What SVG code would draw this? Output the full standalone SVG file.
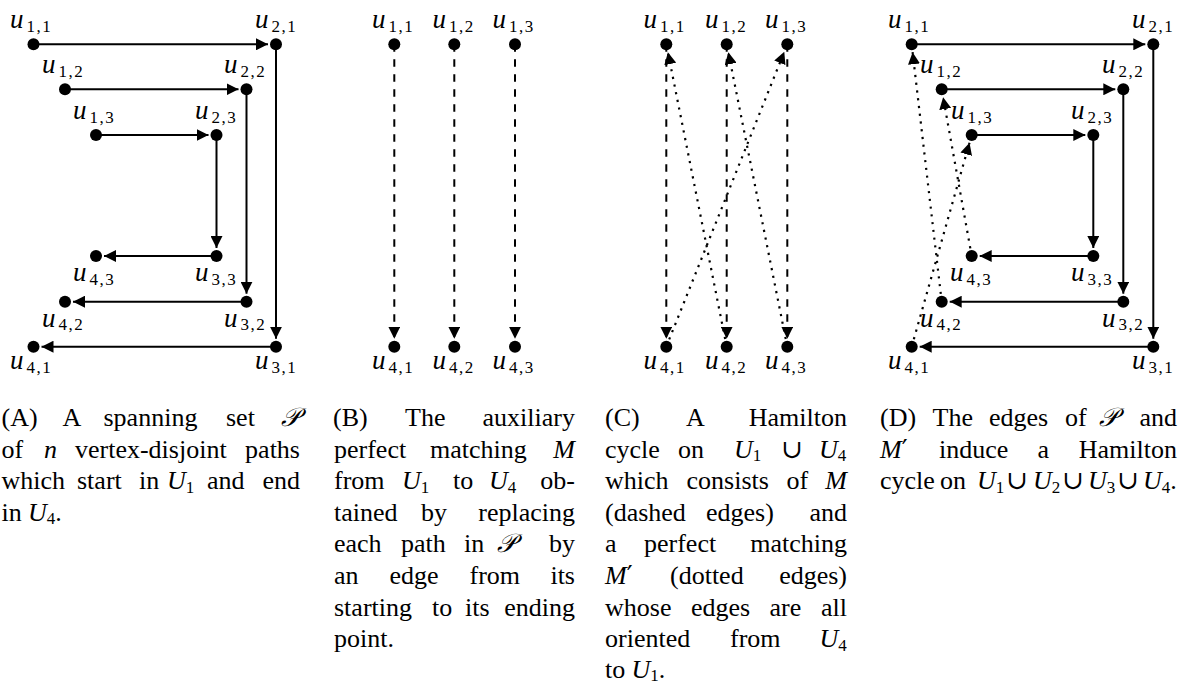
<svg xmlns="http://www.w3.org/2000/svg" width="1178" height="683" viewBox="0 0 1178 683">
<defs>
<style>
.e{fill:none;stroke:#000;stroke-width:2;marker-end:url(#ah)}
.d{stroke-dasharray:7.5 7.5}
.o{stroke-dasharray:2.2 5.6;stroke-width:2.2}
.n{fill:#000}
.lab{font-family:"Liberation Serif","DejaVu Serif",serif;font-size:27px;font-style:italic;fill:#000}
.lab .s{font-style:normal;font-size:17px;letter-spacing:1.5px}
.cap{font-family:"Liberation Serif","DejaVu Serif",serif;font-size:26px;fill:#000}
.i{font-style:italic}
.s{font-size:17px}
.scr{font-family:"DejaVu Serif","DejaVu Sans","Noto Sans",serif;font-style:italic}
.sym{font-family:"DejaVu Serif",serif}
</style>
<marker id="ah" markerUnits="userSpaceOnUse" viewBox="0 0 12 12" markerWidth="12" markerHeight="12" refX="12" refY="6" orient="auto">
<path d="M0,0 L12,6 L0,12 Z" fill="#000"/>
</marker>
</defs>
<rect width="1178" height="683" fill="#fff"/>

<g id="connectors">
<!-- Panel A -->
<path class="e" d="M33.5,44.3 H268"/>
<path class="e" d="M276,44.3 V338.7"/>
<path class="e" d="M276,346.7 H41.5"/>
<path class="e" d="M65,89.3 H238.5"/>
<path class="e" d="M246.5,89.3 V293.7"/>
<path class="e" d="M246.5,301.7 H73"/>
<path class="e" d="M96,135 H208.5"/>
<path class="e" d="M216.5,135 V248"/>
<path class="e" d="M216.5,256 H104"/>
<!-- Panel B -->
<path class="e d" d="M394.3,44.3 V338.7"/>
<path class="e d" d="M454.3,44.3 V338.7"/>
<path class="e d" d="M515,44.3 V338.7"/>
<!-- Panel C -->
<path class="e d" d="M666.3,44.3 V338.7"/>
<path class="e d" d="M726.7,44.3 V338.7"/>
<path class="e d" d="M787.3,44.3 V338.7"/>
<path class="e o" d="M726.7,346.7 L667.9,52.2"/>
<path class="e o" d="M787.3,346.7 L728.3,52.2"/>
<path class="e o" d="M666.3,346.7 L784.3,51.7"/>
<!-- Panel D -->
<path class="e" d="M911.7,44.3 H1145.3"/>
<path class="e" d="M1153.3,44.3 V338.7"/>
<path class="e" d="M1153.3,346.7 H919.7"/>
<path class="e" d="M941.7,89.3 H1115.3"/>
<path class="e" d="M1123.3,89.3 V293.7"/>
<path class="e" d="M1123.3,301.7 H949.7"/>
<path class="e" d="M971.7,135 H1085.3"/>
<path class="e" d="M1093.3,135 V248"/>
<path class="e" d="M1093.3,256 H979.7"/>
<path class="e o" d="M941.7,301.7 L912.6,52.2"/>
<path class="e o" d="M971.7,256 L943.1,97.2"/>
<path class="e o" d="M911.7,346.7 L969.5,142.7"/>
</g>

<!-- Panel A nodes -->
<g id="A-u11"><circle class="n" cx="33.5" cy="44.3" r="6"/><text class="lab" x="10" y="28.3">u<tspan class="s" dx="3" dy="3.5">1,1</tspan></text></g>
<g id="A-u21"><circle class="n" cx="276" cy="44.3" r="6"/><text class="lab" x="255" y="28.3">u<tspan class="s" dx="3" dy="3.5">2,1</tspan></text></g>
<g id="A-u12"><circle class="n" cx="65" cy="89.3" r="6"/><text class="lab" x="42" y="73.3">u<tspan class="s" dx="3" dy="3.5">1,2</tspan></text></g>
<g id="A-u22"><circle class="n" cx="246.5" cy="89.3" r="6"/><text class="lab" x="224" y="73.3">u<tspan class="s" dx="3" dy="3.5">2,2</tspan></text></g>
<g id="A-u13"><circle class="n" cx="96" cy="135" r="6"/><text class="lab" x="73" y="119">u<tspan class="s" dx="3" dy="3.5">1,3</tspan></text></g>
<g id="A-u23"><circle class="n" cx="216.5" cy="135" r="6"/><text class="lab" x="195" y="119">u<tspan class="s" dx="3" dy="3.5">2,3</tspan></text></g>
<g id="A-u43"><circle class="n" cx="96" cy="256" r="6"/><text class="lab" x="73" y="281">u<tspan class="s" dx="3" dy="3.5">4,3</tspan></text></g>
<g id="A-u33"><circle class="n" cx="216.5" cy="256" r="6"/><text class="lab" x="195" y="281">u<tspan class="s" dx="3" dy="3.5">3,3</tspan></text></g>
<g id="A-u42"><circle class="n" cx="65" cy="301.7" r="6"/><text class="lab" x="42" y="326.5">u<tspan class="s" dx="3" dy="3.5">4,2</tspan></text></g>
<g id="A-u32"><circle class="n" cx="246.5" cy="301.7" r="6"/><text class="lab" x="224" y="326.5">u<tspan class="s" dx="3" dy="3.5">3,2</tspan></text></g>
<g id="A-u41"><circle class="n" cx="33.5" cy="346.7" r="6"/><text class="lab" x="10" y="369">u<tspan class="s" dx="3" dy="3.5">4,1</tspan></text></g>
<g id="A-u31"><circle class="n" cx="276" cy="346.7" r="6"/><text class="lab" x="255" y="369">u<tspan class="s" dx="3" dy="3.5">3,1</tspan></text></g>

<!-- Panel B nodes -->
<g id="B-u11"><circle class="n" cx="394.3" cy="44.3" r="6"/><text class="lab" x="372" y="28.3">u<tspan class="s" dx="3" dy="3.5">1,1</tspan></text></g>
<g id="B-u12"><circle class="n" cx="454.3" cy="44.3" r="6"/><text class="lab" x="432.5" y="28.3">u<tspan class="s" dx="3" dy="3.5">1,2</tspan></text></g>
<g id="B-u13"><circle class="n" cx="515" cy="44.3" r="6"/><text class="lab" x="492.5" y="28.3">u<tspan class="s" dx="3" dy="3.5">1,3</tspan></text></g>
<g id="B-u41"><circle class="n" cx="394.3" cy="346.7" r="6"/><text class="lab" x="372" y="369">u<tspan class="s" dx="3" dy="3.5">4,1</tspan></text></g>
<g id="B-u42"><circle class="n" cx="454.3" cy="346.7" r="6"/><text class="lab" x="432.5" y="369">u<tspan class="s" dx="3" dy="3.5">4,2</tspan></text></g>
<g id="B-u43"><circle class="n" cx="515" cy="346.7" r="6"/><text class="lab" x="492.5" y="369">u<tspan class="s" dx="3" dy="3.5">4,3</tspan></text></g>

<!-- Panel C nodes -->
<g id="C-u11"><circle class="n" cx="666.3" cy="44.3" r="6"/><text class="lab" x="643.5" y="28.3">u<tspan class="s" dx="3" dy="3.5">1,1</tspan></text></g>
<g id="C-u12"><circle class="n" cx="726.7" cy="44.3" r="6"/><text class="lab" x="705" y="28.3">u<tspan class="s" dx="3" dy="3.5">1,2</tspan></text></g>
<g id="C-u13"><circle class="n" cx="787.3" cy="44.3" r="6"/><text class="lab" x="765" y="28.3">u<tspan class="s" dx="3" dy="3.5">1,3</tspan></text></g>
<g id="C-u41"><circle class="n" cx="666.3" cy="346.7" r="6"/><text class="lab" x="643.5" y="369">u<tspan class="s" dx="3" dy="3.5">4,1</tspan></text></g>
<g id="C-u42"><circle class="n" cx="726.7" cy="346.7" r="6"/><text class="lab" x="705" y="369">u<tspan class="s" dx="3" dy="3.5">4,2</tspan></text></g>
<g id="C-u43"><circle class="n" cx="787.3" cy="346.7" r="6"/><text class="lab" x="765" y="369">u<tspan class="s" dx="3" dy="3.5">4,3</tspan></text></g>

<!-- Panel D nodes -->
<g id="D-u11"><circle class="n" cx="911.7" cy="44.3" r="6"/><text class="lab" x="888" y="28.3">u<tspan class="s" dx="3" dy="3.5">1,1</tspan></text></g>
<g id="D-u21"><circle class="n" cx="1153.3" cy="44.3" r="6"/><text class="lab" x="1132" y="28.3">u<tspan class="s" dx="3" dy="3.5">2,1</tspan></text></g>
<g id="D-u12"><circle class="n" cx="941.7" cy="89.3" r="6"/><text class="lab" x="920" y="73.3">u<tspan class="s" dx="3" dy="3.5">1,2</tspan></text></g>
<g id="D-u22"><circle class="n" cx="1123.3" cy="89.3" r="6"/><text class="lab" x="1102" y="73.3">u<tspan class="s" dx="3" dy="3.5">2,2</tspan></text></g>
<g id="D-u13"><circle class="n" cx="971.7" cy="135" r="6"/><text class="lab" x="951" y="119">u<tspan class="s" dx="3" dy="3.5">1,3</tspan></text></g>
<g id="D-u23"><circle class="n" cx="1093.3" cy="135" r="6"/><text class="lab" x="1071" y="119">u<tspan class="s" dx="3" dy="3.5">2,3</tspan></text></g>
<g id="D-u43"><circle class="n" cx="971.7" cy="256" r="6"/><text class="lab" x="950" y="281">u<tspan class="s" dx="3" dy="3.5">4,3</tspan></text></g>
<g id="D-u33"><circle class="n" cx="1093.3" cy="256" r="6"/><text class="lab" x="1071" y="281">u<tspan class="s" dx="3" dy="3.5">3,3</tspan></text></g>
<g id="D-u42"><circle class="n" cx="941.7" cy="301.7" r="6"/><text class="lab" x="920" y="326.5">u<tspan class="s" dx="3" dy="3.5">4,2</tspan></text></g>
<g id="D-u32"><circle class="n" cx="1123.3" cy="301.7" r="6"/><text class="lab" x="1102" y="326.5">u<tspan class="s" dx="3" dy="3.5">3,2</tspan></text></g>
<g id="D-u41"><circle class="n" cx="911.7" cy="346.7" r="6"/><text class="lab" x="888" y="369">u<tspan class="s" dx="3" dy="3.5">4,1</tspan></text></g>
<g id="D-u31"><circle class="n" cx="1153.3" cy="346.7" r="6"/><text class="lab" x="1132" y="369">u<tspan class="s" dx="3" dy="3.5">3,1</tspan></text></g>

<!-- Caption A -->
<g id="caption-A" class="cap">
<text y="426"><tspan x="1.5">(A)</tspan><tspan x="62.5">A</tspan><tspan x="103.5">spanning</tspan><tspan x="226">set</tspan><tspan x="300" text-anchor="end" class="scr">𝒫</tspan></text>
<text y="457.6"><tspan x="1.5">of</tspan><tspan x="44" class="i">n</tspan><tspan x="75">vertex-disjoint</tspan><tspan x="300" text-anchor="end">paths</tspan></text>
<text y="489.2"><tspan x="1.5">which</tspan><tspan x="77">start</tspan><tspan x="139">in</tspan><tspan x="167" class="i">U</tspan><tspan class="s" dy="3.5">1</tspan><tspan x="207" dy="-3.5">and</tspan><tspan x="300" text-anchor="end">end</tspan></text>
<text y="520.8"><tspan x="1.5">in</tspan><tspan x="28" class="i">U</tspan><tspan class="s" dy="3.5">4</tspan><tspan dy="-3.5">.</tspan></text>
</g>

<!-- Caption B -->
<g id="caption-B" class="cap">
<text y="426"><tspan x="333">(B)</tspan><tspan x="405">The</tspan><tspan x="575" text-anchor="end">auxiliary</tspan></text>
<text y="457.6"><tspan x="334">perfect</tspan><tspan x="430">matching</tspan><tspan x="575" text-anchor="end" class="i">M</tspan></text>
<text y="489.2"><tspan x="334">from</tspan><tspan x="402" class="i">U</tspan><tspan class="s" dy="3.5">1</tspan><tspan x="453" dy="-3.5">to</tspan><tspan x="489" class="i">U</tspan><tspan class="s" dy="3.5">4</tspan><tspan x="575" dy="-3.5" text-anchor="end">ob-</tspan></text>
<text y="520.8"><tspan x="334">tained</tspan><tspan x="421">by</tspan><tspan x="575" text-anchor="end">replacing</tspan></text>
<text y="552.4"><tspan x="334">each</tspan><tspan x="401">path</tspan><tspan x="464">in</tspan><tspan x="497" class="scr">𝒫</tspan><tspan x="575" text-anchor="end">by</tspan></text>
<text y="584"><tspan x="334">an</tspan><tspan x="389.5">edge</tspan><tspan x="469.5">from</tspan><tspan x="575" text-anchor="end">its</tspan></text>
<text y="615.6"><tspan x="334">starting</tspan><tspan x="432">to</tspan><tspan x="465">its</tspan><tspan x="575" text-anchor="end">ending</tspan></text>
<text y="647.2"><tspan x="334">point.</tspan></text>
</g>

<!-- Caption C -->
<g id="caption-C" class="cap">
<text y="426"><tspan x="605">(C)</tspan><tspan x="686">A</tspan><tspan x="847" text-anchor="end">Hamilton</tspan></text>
<text y="457.6"><tspan x="605">cycle</tspan><tspan x="678">on</tspan><tspan x="734" class="i">U</tspan><tspan class="s" dy="3.5">1</tspan><tspan x="781" dy="-3.5" class="sym">∪</tspan><tspan x="819" class="i">U</tspan><tspan class="s" dy="3.5">4</tspan></text>
<text y="489.2"><tspan x="605">which</tspan><tspan x="686.5">consists</tspan><tspan x="786.5">of</tspan><tspan x="847" text-anchor="end" class="i">M</tspan></text>
<text y="520.8"><tspan x="605">(dashed</tspan><tspan x="706">edges)</tspan><tspan x="847" text-anchor="end">and</tspan></text>
<text y="552.4"><tspan x="605">a</tspan><tspan x="644">perfect</tspan><tspan x="847" text-anchor="end">matching</tspan></text>
<text y="584"><tspan x="605" class="i">M</tspan><tspan class="sym">′</tspan><tspan x="670">(dotted</tspan><tspan x="847" text-anchor="end">edges)</tspan></text>
<text y="615.6"><tspan x="605">whose</tspan><tspan x="691">edges</tspan><tspan x="769.5">are</tspan><tspan x="847" text-anchor="end">all</tspan></text>
<text y="647.2"><tspan x="605">oriented</tspan><tspan x="730">from</tspan><tspan x="819.5" class="i">U</tspan><tspan class="s" dy="3.5">4</tspan></text>
<text y="677.5"><tspan x="605">to</tspan><tspan x="631.5" class="i">U</tspan><tspan class="s" dy="3">1</tspan><tspan dy="-3">.</tspan></text>
</g>

<!-- Caption D -->
<g id="caption-D" class="cap">
<text y="426"><tspan x="880">(D)</tspan><tspan x="932.5">The</tspan><tspan x="989">edges</tspan><tspan x="1065">of</tspan><tspan x="1099" class="scr">𝒫</tspan><tspan x="1177" text-anchor="end">and</tspan></text>
<text y="457.6"><tspan x="880" class="i">M</tspan><tspan class="sym">′</tspan><tspan x="939">induce</tspan><tspan x="1037.5">a</tspan><tspan x="1177" text-anchor="end">Hamilton</tspan></text>
<text y="489.2"><tspan x="880">cycle</tspan><tspan x="940">on</tspan><tspan x="977" class="i">U</tspan><tspan class="s" dy="3.5">1</tspan><tspan x="1006" dy="-3.5" class="sym">∪</tspan><tspan x="1033" class="i">U</tspan><tspan class="s" dy="3.5">2</tspan><tspan x="1062" dy="-3.5" class="sym">∪</tspan><tspan x="1088" class="i">U</tspan><tspan class="s" dy="3.5">3</tspan><tspan x="1117" dy="-3.5" class="sym">∪</tspan><tspan x="1143" class="i">U</tspan><tspan class="s" dy="3.5">4</tspan><tspan dy="-3.5">.</tspan></text>
</g>
</svg>
